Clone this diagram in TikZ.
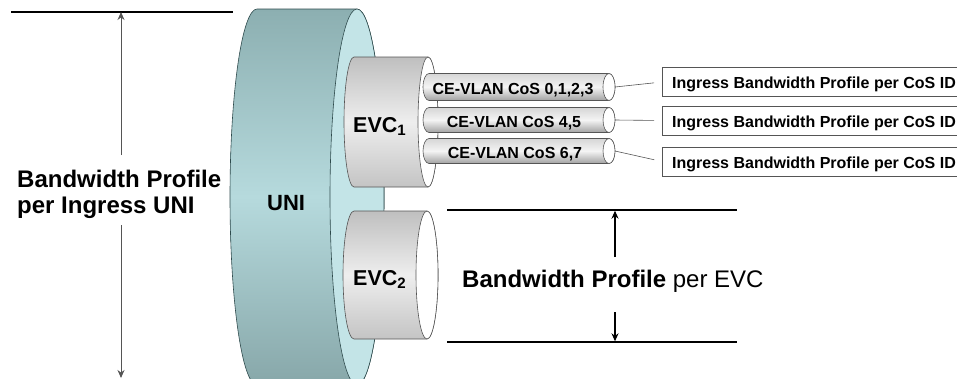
\documentclass[tikz,border=0pt]{standalone}
\usepackage{fontspec}
\setmainfont{Liberation Sans}
\usetikzlibrary{arrows.meta}

\definecolor{uniTop}{HTML}{8CAFB1}
\definecolor{uniMid}{HTML}{B6DADD}
\definecolor{uniBot}{HTML}{87A7A9}
\definecolor{uniFace}{HTML}{C3E4E7}
\definecolor{uniEdge}{HTML}{2E4A4C}
\definecolor{evcTop}{HTML}{BFBFBF}
\definecolor{evcMid}{HTML}{EEEEEE}
\definecolor{evcBot}{HTML}{C4C4C4}
\definecolor{pipeTop}{HTML}{D6D6D6}
\definecolor{pipeMid}{HTML}{F4F4F4}
\definecolor{pipeBot}{HTML}{A2A2A2}
\definecolor{greyEdge}{HTML}{555555}

% horizontal cylinder: #1 body style, #2 face style, #3 back x, #4 front x,
% #5 centre y, #6 end radius (x), #7 end radius (y), #8 name of front face
\newcommand\hcyl[8]{%
  \path[#1] (#3,#5) ++(0pt,#7pt)
    arc[start angle=90,end angle=270,x radius=#6pt,y radius=#7pt]
    -- ++({#4-#3},0)
    arc[start angle=270,end angle=450,x radius=#6pt,y radius=#7pt]
    -- cycle;
  \path[#2] (#4,#5) ellipse[x radius=#6pt,y radius=#7pt];
  \coordinate (#8) at ({#4+#6},#5);
}

% profile box running off the right edge: #1 name, #2 centre y, #3 text
\newcommand\cosprofile[3]{%
  \draw[boxedge] (662,{#2-14.5}) rectangle (962,{#2+14.5});
  \coordinate (#1W) at (662,#2);
  \node[costext] (#1) at (672,{#2+6.5}) {#3};
}

\begin{document}
\begin{tikzpicture}[x=1pt,y=-1pt,
  unibody/.style={draw=uniEdge,line width=0.6pt,top color=uniTop,bottom color=uniBot,middle color=uniMid},
  uniface/.style={draw=uniEdge,line width=0.6pt,fill=uniFace},
  evcbody/.style={draw=greyEdge,line width=0.6pt,top color=evcTop,bottom color=evcBot,middle color=evcMid},
  pipebody/.style={draw=greyEdge,line width=0.6pt,top color=pipeTop,bottom color=pipeBot,middle color=pipeMid},
  whiteface/.style={draw=greyEdge,line width=0.6pt,fill=white},
  biglabel/.style={font=\fontsize{24}{26}\selectfont\bfseries,inner sep=0pt,anchor=base west},
  evclabel/.style={font=\fontsize{21.5}{23}\selectfont\bfseries,inner sep=0pt,anchor=base west},
  pipelabel/.style={font=\fontsize{16}{18}\selectfont\bfseries,inner sep=0pt,anchor=base},
  boxedge/.style={draw=greyEdge,line width=0.8pt},
  costext/.style={anchor=base west,inner sep=0pt,font=\fontsize{16}{18}\selectfont\bfseries},
  conn/.style={draw=greyEdge,line width=0.6pt,shorten >=8pt},
  dimline/.style={draw=black,line width=1.4pt},
  dimarrow/.style={line width=1.1pt,-{Stealth[length=8pt,width=7pt]}},
]
\useasboundingbox (0,0) rectangle (957,378);
\begin{scope}
\clip (0,0) rectangle (957,378);

% UNI port
\hcyl{unibody}{uniface}{257}{357}{197}{27}{188}{uniE}
\node[biglabel,font=\fontsize{22}{24}\selectfont\bfseries] (uni) at (267,210) {UNI};

% EVC cylinders
\hcyl{evcbody}{whiteface}{354}{428}{122}{10}{65}{evc1E}
\hcyl{evcbody}{whiteface}{354}{427}{275}{11}{64}{evc2E}
\node[evclabel] (evc1) at (353,132) {EVC\textsubscript{1}};
\node[evclabel] (evc2) at (353,285) {EVC\textsubscript{2}};

% CoS pipes inside EVC1
\hcyl{pipebody}{whiteface}{429}{609}{87}{6}{13.5}{p1E}
\hcyl{pipebody}{whiteface}{429}{609}{120}{6}{12.5}{p2E}
\hcyl{pipebody}{whiteface}{429}{609}{151}{6}{12.5}{p3E}
\node[pipelabel] (cos1) at (513,94) {CE-VLAN CoS 0,1,2,3};
\node[pipelabel] (cos2) at (514,127) {CE-VLAN CoS 4,5};
\node[pipelabel] (cos3) at (515,158) {CE-VLAN CoS 6,7};

% per-CoS profile boxes
\cosprofile{bp1}{82}{Ingress Bandwidth Profile per CoS ID}
\cosprofile{bp2}{120.5}{Ingress Bandwidth Profile per CoS ID}
\cosprofile{bp3}{161.5}{Ingress Bandwidth Profile per CoS ID}
\draw[conn] (p1E) -- (bp1W);
\draw[conn] (p2E) -- (bp2W);
\draw[conn] (p3E) -- (bp3W);

% dimension: per ingress UNI
\coordinate (uniLineA) at (11,12);
\coordinate (uniLineB) at (233,12);
\coordinate (uniTopTip) at (121,12);
\coordinate (uniGapT) at (121,155);
\coordinate (uniGapB) at (121,225);
\coordinate (uniBotTip) at (121,378);
\draw[line width=1.1pt] (uniLineA) -- (uniLineB);
\draw[dimarrow,draw=greyEdge,line width=1pt] (uniGapT) -- (uniTopTip);
\draw[dimarrow,draw=greyEdge,line width=1pt] (uniGapB) -- (uniBotTip);
\node[biglabel] (uniBw1) at (17,187) {Bandwidth Profile};
\node[biglabel] (uniBw2) at (17,213) {per Ingress UNI};

% dimension: per EVC
\coordinate (evcTopA) at (447,210);
\coordinate (evcTopB) at (737,210);
\coordinate (evcBotA) at (447,342);
\coordinate (evcBotB) at (737,342);
\coordinate (evcTopTip) at (615,210.7);
\coordinate (evcGapT) at (615,257);
\coordinate (evcGapB) at (615,312);
\coordinate (evcBotTip) at (615,341.3);
\draw[dimline] (evcTopA) -- (evcTopB);
\draw[dimline] (evcBotA) -- (evcBotB);
\draw[dimarrow] (evcGapT) -- (evcTopTip);
\draw[dimarrow] (evcGapB) -- (evcBotTip);
\node[biglabel] (evcBw) at (462,287) {Bandwidth Profile \mdseries per EVC};

\end{scope}
\end{tikzpicture}
\end{document}
